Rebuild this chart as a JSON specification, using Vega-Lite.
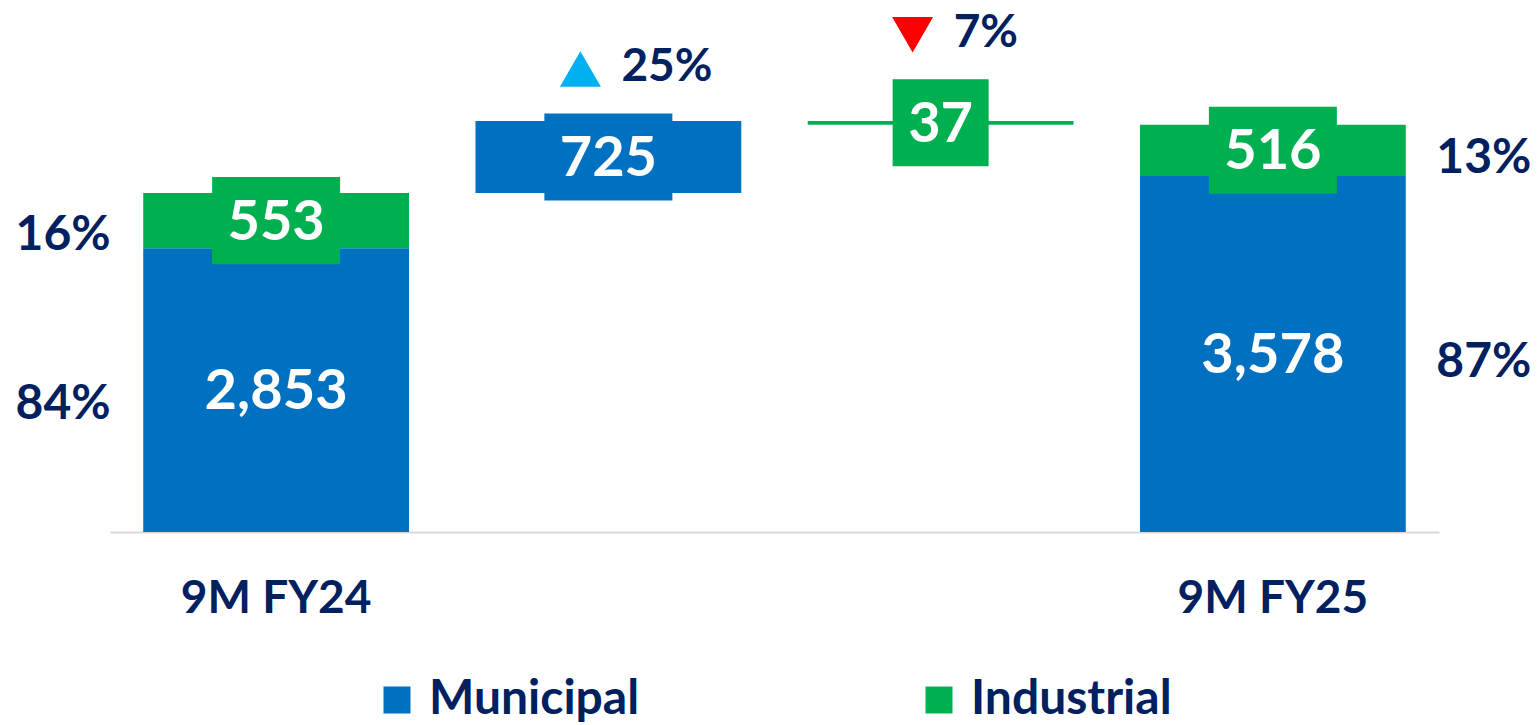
{
  "$schema": "https://vega.github.io/schema/vega-lite/v6.json",
  "width": 1329,
  "height": 532,
  "autosize": {"type": "none"},
  "padding": {"left": 110, "top": 0, "right": 99, "bottom": 193},
  "background": "white",
  "config": {"view": {"stroke": null}, "font": "Lato"},
  "data": {
    "values": [
      {"cat": "9M FY24", "series": "Municipal", "y0": 0, "y1": 2853, "label": "2,853", "pct": "84%"},
      {"cat": "9M FY24", "series": "Industrial", "y0": 2853, "y1": 3406, "label": "553", "pct": "16%"},
      {"cat": "Municipal change", "series": "Municipal", "y0": 3406, "y1": 4131, "label": "725", "chg": "25%", "dir": "up"},
      {"cat": "Industrial change", "series": "Industrial", "y0": 4094, "y1": 4131, "label": "37", "chg": "7%", "dir": "down"},
      {"cat": "9M FY25", "series": "Municipal", "y0": 0, "y1": 3578, "label": "3,578", "pct": "87%"},
      {"cat": "9M FY25", "series": "Industrial", "y0": 3578, "y1": 4094, "label": "516", "pct": "13%"}
    ]
  },
  "transform": [{"calculate": "(datum.y0 + datum.y1) / 2", "as": "mid"}],
  "encoding": {
    "x": {
      "field": "cat",
      "type": "nominal",
      "sort": ["9M FY24", "Municipal change", "Industrial change", "9M FY25"],
      "scale": {"paddingInner": 0.2, "paddingOuter": 0.1},
      "axis": {
        "title": null,
        "labelAngle": 0,
        "ticks": false,
        "domainColor": "#D9D9D9",
        "domainWidth": 2,
        "labelFont": "Lato",
        "labelFontSize": 46,
        "labelFontWeight": "bold",
        "labelColor": "#002060",
        "labelPadding": 44,
        "labelLimit": 0,
        "labelExpr": "indexof(datum.value, '9M') == 0 ? datum.value : ''"
      }
    }
  },
  "layer": [
    {
      "mark": {"type": "bar"},
      "encoding": {
        "y": {"field": "y0", "type": "quantitative", "scale": {"domain": [0, 5347], "nice": false, "zero": true}, "axis": null},
        "y2": {"field": "y1"},
        "color": {
          "field": "series",
          "type": "nominal",
          "scale": {"domain": ["Municipal", "Industrial"], "range": ["#0070C0", "#00B050"]},
          "legend": {
            "title": null,
            "orient": "none",
            "legendX": 263,
            "legendY": 676,
            "direction": "horizontal",
            "symbolType": "square",
            "symbolSize": 729,
            "symbolStrokeWidth": 0,
            "symbolOpacity": 1,
            "labelFont": "Lato",
            "labelFontSize": 48,
            "labelFontWeight": "bold",
            "labelColor": "#002060",
            "labelOffset": 8,
            "labelLimit": 0,
            "columnPadding": 275,
            "padding": 0
          }
        }
      }
    },
    {
      "transform": [{"filter": "length(datum.label) == 3"}],
      "mark": {"type": "point", "filled": true, "opacity": 1, "strokeWidth": 0, "shape": "M-1,-0.68H1V0.68H-1Z", "size": 16384},
      "encoding": {
        "y": {"field": "mid", "type": "quantitative"},
        "color": {"condition": {"test": "datum.series == 'Municipal'", "value": "#0070C0"}, "value": "#00B050"}
      }
    },
    {
      "transform": [{"filter": "length(datum.label) == 2"}],
      "mark": {"type": "point", "filled": true, "opacity": 1, "strokeWidth": 0, "shape": "M-1,-0.906H1V0.906H-1Z", "size": 9216},
      "encoding": {
        "y": {"field": "mid", "type": "quantitative"},
        "color": {"condition": {"test": "datum.series == 'Municipal'", "value": "#0070C0"}, "value": "#00B050"}
      }
    },
    {
      "mark": {"type": "text", "font": "Lato", "fontSize": 56, "fontWeight": "bold", "color": "white", "baseline": "middle", "align": "center", "dy": 2},
      "encoding": {
        "y": {"field": "mid", "type": "quantitative"},
        "text": {"field": "label"}
      }
    },
    {
      "transform": [{"filter": "datum.cat == '9M FY24'"}],
      "mark": {"type": "text", "font": "Lato", "fontSize": 48, "fontWeight": "bold", "color": "#002060", "baseline": "middle", "align": "center", "dx": -213, "dy": 15},
      "encoding": {
        "y": {"field": "mid", "type": "quantitative"},
        "text": {"field": "pct"}
      }
    },
    {
      "transform": [{"filter": "datum.cat == '9M FY25'"}],
      "mark": {"type": "text", "font": "Lato", "fontSize": 48, "fontWeight": "bold", "color": "#002060", "baseline": "middle", "align": "center", "dx": 211, "dy": 9},
      "encoding": {
        "y": {"field": "mid", "type": "quantitative"},
        "text": {"field": "pct"}
      }
    },
    {
      "transform": [{"filter": "isValid(datum.chg)"}],
      "mark": {"type": "point", "filled": true, "opacity": 1, "strokeWidth": 0, "size": 1681, "xOffset": -28, "yOffset": -88},
      "encoding": {
        "y": {"field": "mid", "type": "quantitative"},
        "shape": {"condition": {"test": "datum.dir == 'up'", "value": "triangle-up"}, "value": "triangle-down"},
        "color": {"condition": {"test": "datum.dir == 'up'", "value": "#00B0F0"}, "value": "#FF0000"}
      }
    },
    {
      "transform": [{"filter": "isValid(datum.chg)"}],
      "mark": {"type": "text", "font": "Lato", "fontSize": 46, "fontWeight": "bold", "color": "#002060", "baseline": "middle", "align": "left", "dx": 13, "dy": -90},
      "encoding": {
        "y": {"field": "mid", "type": "quantitative"},
        "text": {"field": "chg"}
      }
    }
  ]
}
